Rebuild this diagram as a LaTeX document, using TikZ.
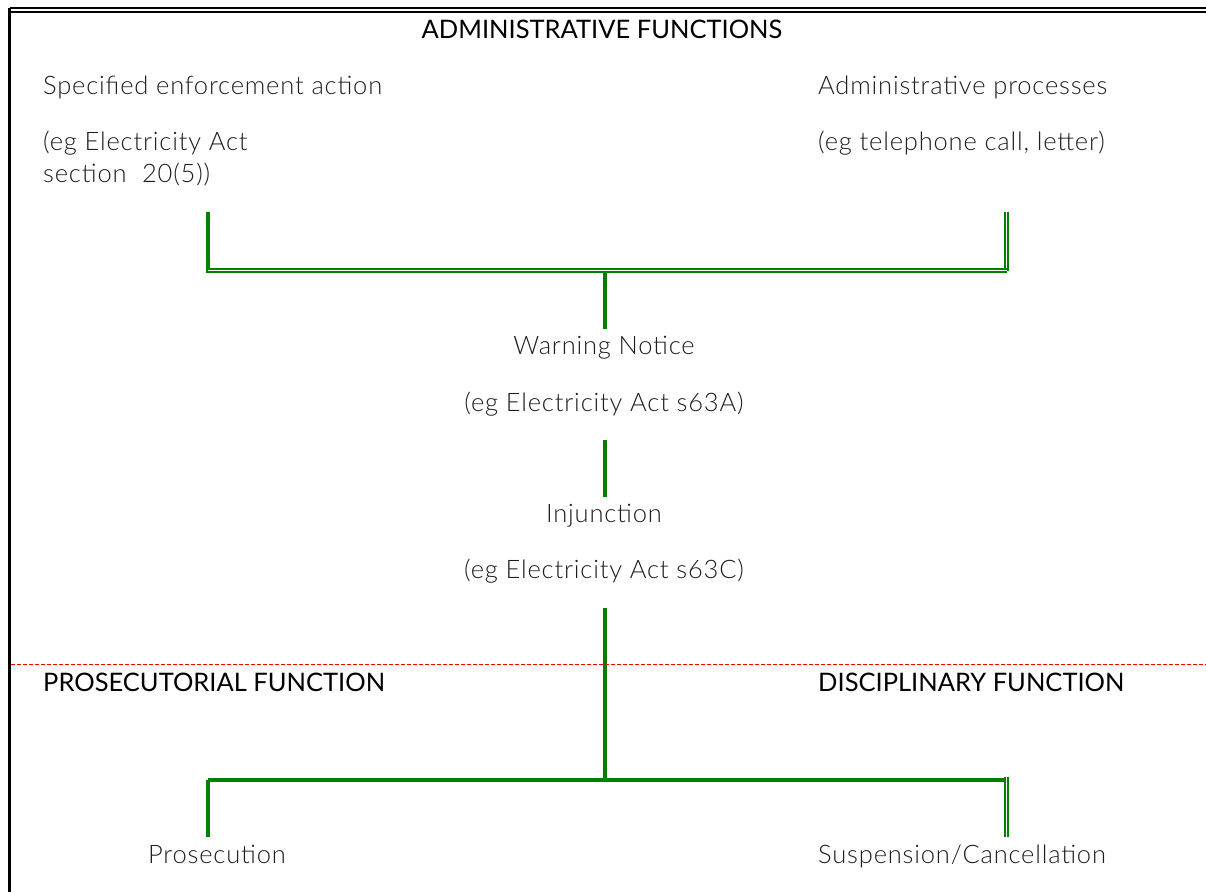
\documentclass[tikz,border=0pt]{standalone}
\usepackage{fontspec}
\setmainfont{Lato}[UprightFont={* Light}, LetterSpace=3.2]
\newfontfamily\headfont{Lato}
\usetikzlibrary{calc}
\definecolor{gline}{RGB}{0,128,0}
\definecolor{txt}{RGB}{30,30,30}
\tikzset{
  lbl/.style={inner sep=0pt, anchor=base west, text=txt, font=\fontsize{25.5}{30}\selectfont},
  clbl/.style={inner sep=0pt, anchor=base, text=txt, font=\fontsize{25.5}{30}\selectfont},
  head/.style={inner sep=0pt, anchor=base, text=black, font=\headfont\fontsize{25.5}{30}\selectfont},
  thickg/.style={draw=gline, line width=4pt},
  dblg/.style={draw=gline, double=white, double distance=1.6pt, line width=1.8pt},
  frame/.style={draw=black, line width=3pt},
  dblk/.style={draw=black, double=white, double distance=1.4pt, line width=2pt},
}
\begin{document}
\begin{tikzpicture}[x=1pt,y=-1pt]
\useasboundingbox (0,0) rectangle (1206,891);
% frame
\draw[dblk] (9.5,10) -- (1210,10);
\draw[frame] (9.5,8) -- (9.5,895);
% texts
\node[head] (admin) at (602,38) {ADMINISTRATIVE FUNCTIONS};
\node[lbl] (spec) at (43,94) {Specified enforcement action};
\node[lbl] (eg1) at (43,150) {(eg Electricity Act};
\node[lbl] (eg1b) at (43,182) {section\ \ 20(5))};
\node[lbl] (adm) at (818,94) {Administrative processes};
\node[lbl] (eg2) at (818,150) {(eg telephone call, letter)};
\node[clbl] (warn) at (604,354) {Warning Notice};
\node[clbl] (eg3) at (604,411) {(eg Electricity Act s63A)};
\node[clbl] (inj) at (604,522) {Injunction};
\node[clbl] (eg4) at (604,578) {(eg Electricity Act s63C)};
\node[head, anchor=base west] (pros) at (43,691) {PROSECUTORIAL FUNCTION};
\node[head, anchor=base west] (disc) at (818,691) {DISCIPLINARY FUNCTION};
\node[lbl] (prosn) at (148,863) {Prosecution};
\node[lbl] (susp) at (818,863) {Suspension/Cancellation};
% coordinates
\coordinate (tl) at (208,212);
\coordinate (tlc) at (208,270.5);
\coordinate (tr) at (1006.5,212);
\coordinate (trc) at (1006.5,270.5);
\coordinate (tm) at (605,272.5);
\coordinate (s1) at (605,329);
\coordinate (s2a) at (605,440);
\coordinate (s2b) at (605,497);
\coordinate (s3a) at (605,608);
\coordinate (bm) at (605,780);
\coordinate (bl) at (208,780);
\coordinate (blb) at (208,837);
\coordinate (br) at (1006.5,780);
\coordinate (brb) at (1006.5,837);
% top connectors
\draw[dblg] (tlc) -- (trc);
\draw[thickg] (tl) -- (208,272.5);
\draw[dblg] (tr) -- (trc);
\draw[dblg] (trc) -- (tlc);
\draw[thickg] (tm) -- (s1);
\draw[thickg] (s2a) -- (s2b);
\draw[thickg] (s3a) -- (bm);
% bottom
\draw[thickg] (208,780) -- (1005,780);
\draw[thickg] (bl) -- (blb);
\draw[dblg] (brb) -- (1006.5,777);
% red dashed
\draw[red, line width=1pt, dash pattern=on 4pt off 2pt] (11,664) -- (1206,664);
\end{tikzpicture}
\end{document}
